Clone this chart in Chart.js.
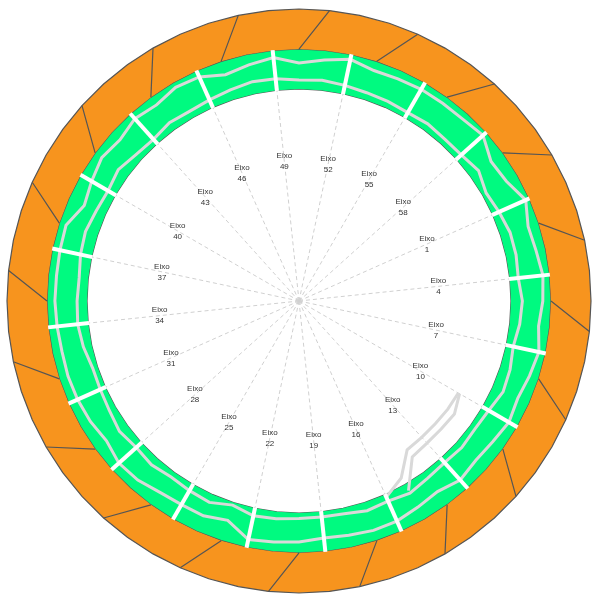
<!DOCTYPE html>
<html>
<head>
<meta charset="utf-8">
<script src="https://cdn.jsdelivr.net/npm/chart.js@4/dist/chart.umd.min.js"></script>
<style>
html,body{margin:0;padding:0;background:#fff;}
#wrap{width:598px;height:602px;position:relative;}
</style>
</head>
<body>
<div id="wrap"><canvas id="c"></canvas></div>
<script>
// ---- data ----
const labels = Array.from({length: 60}, (_, i) => 'Eixo ' + (i + 1));
const orangeOuter = Array(60).fill(100);
const greenOuter = Array(60).fill(86.3);
const greenInner = Array(60).fill(72.6);
const diagonals = labels.map((_, i) => i % 3 === 1 ? 86.3 : (i % 3 === 2 ? 100 : null));
// gray series
const grayA = [85,82.5,83,84,83.5,82.5,84,83,82,83,82,81.5,82.5,80.7,81.5,82.5,82.6,82,81.6,82.5,83,83.5,79,80.5,
               80.5,81,82.5,83,81.5,82.5,83,83.2,83,83.3,83.6,83.5,83.7,83.9,80.5,82,83.5,82.5,84,83,84.5,
               84,81.5,82.7,83.8,81.5,83,84.6,83,83.3,83.7,83.7,83.8,84.8,81.3,82];
const grayB = [75,76,76,75.5,76.5,76,75,76,76.5,75,74.5,75,74.5,75,76,75,75.5,74.5,74.4,74.5,75,75.2,73.5,75.5,
               75,74.5,75.5,75,76,75,74.5,74.3,75.5,76.2,76,75.7,76.5,76.9,76,75.5,76.5,75,74.5,75.5,75,
               75.4,76,76.8,76.5,75.7,76,75.5,75,74.8,74.5,75,74.6,74.8,76,74];
const grayC = [null,null,null,null,null,null,null,null,null,63,63,62.8,62.8,63,70,73.5,
               null,null,null,null,null,null,null,null,null,null,null,null,null,null,null,null,null,null,null,null,null,null,null,null,
               null,null,null,null,null,null,null,null,null,null,null,null,null,null,null,null,null,null,null,null];
const grayD = [null,null,null,null,null,null,null,null,null,63.5,65.8,65.5,65.5,66,75,
               null,null,null,null,null,null,null,null,null,null,null,null,null,null,null,null,null,null,null,null,null,null,null,null,
               null,null,null,null,null,null,null,null,null,null,null,null,null,null,null,null,null,null,null,null,null];
const labelValue = 48;

const separators = {
  id: 'separators',
  afterDatasetsDraw(chart) {
    const s = chart.scales.r, ctx = chart.ctx;
    ctx.save();
    ctx.strokeStyle = '#ffffff';
    ctx.lineWidth = 4;
    for (let i = 0; i < labels.length; i += 3) {
      const a = s.getPointPositionForValue(i, greenInner[i] - 0.3);
      const b = s.getPointPositionForValue(i, greenOuter[i] + 0.1);
      ctx.beginPath(); ctx.moveTo(a.x, a.y); ctx.lineTo(b.x, b.y); ctx.stroke();
    }
    ctx.restore();
  },
  afterDraw(chart) {
    const s = chart.scales.r, ctx = chart.ctx;
    ctx.save();
    ctx.fillStyle = '#333';
    ctx.font = '8px "Liberation Sans", Arial, sans-serif';
    ctx.textAlign = 'center';
    ctx.textBaseline = 'middle';
    for (let i = 0; i < labels.length; i += 3) {
      const p = s.getPointPositionForValue(i, labelValue);
      const parts = labels[i].split(' ');
      ctx.fillText(parts[0], p.x, p.y - 5.5);
      ctx.fillText(parts[1], p.x, p.y + 5.5);
    }
    ctx.restore();
  }
};

const grayStyle = {borderColor: '#d9d9d9', borderWidth: 3, fill: false, pointRadius: 0, tension: 0, spanGaps: false};

new Chart(document.getElementById('c'), {
  type: 'radar',
  data: {
    labels: labels,
    datasets: [
      Object.assign({data: grayC}, grayStyle),
      Object.assign({data: grayD}, grayStyle),
      Object.assign({data: grayA}, grayStyle),
      Object.assign({data: grayB}, grayStyle),
      {data: diagonals, borderColor: '#555555', borderWidth: 1.2, fill: false, pointRadius: 0, spanGaps: false},
      {data: orangeOuter, borderColor: '#555555', borderWidth: 1.2, backgroundColor: '#f7941e', fill: {value: 86.3}, pointRadius: 0},
      {data: greenOuter, borderColor: '#555555', borderWidth: 1.2, backgroundColor: '#00fa80', fill: {value: 72.6}, pointRadius: 0},
      {data: greenInner, borderColor: '#555555', borderWidth: 1.2, fill: false, pointRadius: 0}
    ]
  },
  options: {
    responsive: true,
    maintainAspectRatio: false,
    animation: false,
    layout: {padding: 7},
    plugins: {legend: {display: false}, tooltip: {enabled: false}},
    scales: {
      r: {
        min: 0, max: 100,
        startAngle: 66,
        ticks: {display: false},
        grid: {display: false},
        pointLabels: {display: false},
        angleLines: {
          display: true,
          color: (ctx) => ctx.index % 3 === 0 ? '#d0d0d0' : 'rgba(0,0,0,0)',
          lineWidth: 1,
          borderDash: [4, 3]
        }
      }
    }
  },
  plugins: [separators]
});
</script>
</body>
</html>
